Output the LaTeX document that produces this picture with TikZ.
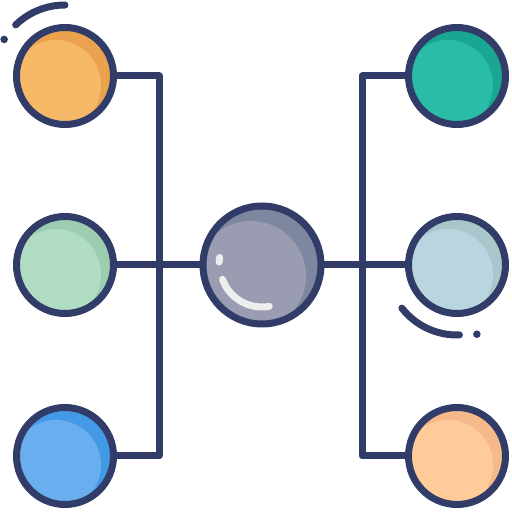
\documentclass[tikz,border=0pt]{standalone}
\definecolor{navy}{HTML}{323C69}
\definecolor{shine}{HTML}{EEEEEE}
\definecolor{orangeD}{HTML}{EAA24F}\definecolor{orangeL}{HTML}{F6B968}
\definecolor{greenD}{HTML}{9CCDB0}\definecolor{greenL}{HTML}{B1DCC4}
\definecolor{blueD}{HTML}{4399E6}\definecolor{blueL}{HTML}{69AEEE}
\definecolor{tealD}{HTML}{1AA693}\definecolor{tealL}{HTML}{29BDA8}
\definecolor{skyD}{HTML}{A9C6CB}\definecolor{skyL}{HTML}{B9D6E0}
\definecolor{peachD}{HTML}{F5B98A}\definecolor{peachL}{HTML}{FFCC99}
\definecolor{grayD}{HTML}{7E87A0}\definecolor{grayL}{HTML}{9A9DB1}
\begin{document}
\begin{tikzpicture}[x=1pt, y=1pt, line join=round, line cap=round,
	wire/.style={navy, line width=7pt},
	ball/.style 2 args={circle, draw=navy, line width=7pt, inner sep=0pt,
		minimum size=97pt, fill=#1,
		path picture={\fill[#2] ([shift={(-9pt,-9pt)}]path picture bounding box.center) circle (45pt);}},
	hubball/.style 2 args={ball={#1}{#2}, minimum size=118pt,
		path picture={\fill[#2] ([shift={(-11pt,-11pt)}]path picture bounding box.center) circle (55pt);}}]
	\useasboundingbox (0,0) rectangle (512,512);
	% bus lines
	\coordinate (ltop) at (159,436); \coordinate (lbot) at (159,56);
	\coordinate (rtop) at (362,436); \coordinate (rbot) at (362,56);
	\draw[wire] (65,436) -- (ltop) -- (lbot) -- (65,56);
	\draw[wire] (457,436) -- (rtop) -- (rbot) -- (457,56);
	\draw[wire] (65,247) -- (457,247);
	% balls
	\node[ball={orangeD}{orangeL}] (tl) at (65,436) {};
	\node[ball={greenD}{greenL}] (ml) at (65,247) {};
	\node[ball={blueD}{blueL}] (bl) at (65,56) {};
	\node[ball={tealD}{tealL}] (tr) at (457,436) {};
	\node[ball={skyD}{skyL}] (mr) at (457,247) {};
	\node[ball={peachD}{peachL}] (br) at (457,56) {};
	\node[hubball={grayD}{grayL}] (hub) at (262,247) {};
	% glints
	\draw[wire] ([shift={(134:71pt)}]tl.center) arc (134:90:71pt);
	\fill[navy] ([shift={(149:71pt)}]tl.center) circle (3.8pt);
	\draw[wire] ([shift={(218:70pt)}]mr.center) arc (218:272:70pt);
	\fill[navy] ([shift={(286:72pt)}]mr.center) circle (3.8pt);
	\draw[shine, line width=7pt] ([shift={(200:42pt)}]hub.center) arc (200:280:42pt);
	\draw[shine, line width=7pt] ([shift={(170:43pt)}]hub.center) arc (170:176:43pt);
\end{tikzpicture}
\end{document}
